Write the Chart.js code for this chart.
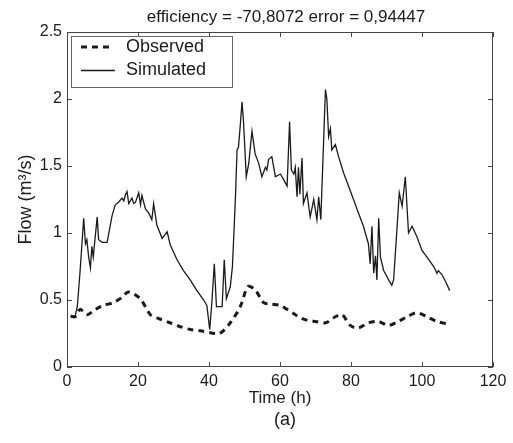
<!DOCTYPE html>
<html>
<head>
<meta charset="utf-8">
<script src="https://cdn.jsdelivr.net/npm/chart.js@4"></script>
<style>
  html, body { margin: 0; padding: 0; background: #fff; }
  canvas { display: block; }
</style>
</head>
<body>
<canvas id="chart" width="513" height="443"></canvas>
<script>
// values
const xTicks = [0, 20, 40, 60, 80, 100, 120]
const yTicks = [0, 0.5, 1, 1.5, 2, 2.5]

const obsTime = [1, 2.3, 3.7, 5.6, 8, 10.3, 13, 15.5, 17.3, 20.6, 23.5, 26, 29, 32, 34.7, 37.5, 40.4, 43, 46, 48.8,
  51, 53, 55.4, 57.5, 60, 62, 63.8, 65.5, 67.6, 70, 72.8, 75.6, 77.5, 79.8, 82, 84.9, 87.7, 90.5, 93.3, 95.8,
  98.6, 101.4, 104.2, 107.5]
const obsFlow = [0.38, 0.375, 0.43, 0.39, 0.43, 0.46, 0.48, 0.52, 0.56, 0.51, 0.39, 0.36, 0.33, 0.3, 0.28, 0.27, 0.256, 0.25, 0.33, 0.45,
  0.6, 0.575, 0.48, 0.47, 0.46, 0.43, 0.4, 0.37, 0.35, 0.34, 0.33, 0.375, 0.39, 0.31, 0.29, 0.33, 0.34, 0.31, 0.34, 0.375,
  0.405, 0.375, 0.34, 0.32]

const simTime = [2.3, 2.9, 3.7, 4.7, 5.2, 5.6, 6.1, 6.6, 7.0, 7.4, 8.5, 8.9, 9.9, 11.3, 12.7, 13.6, 14.5, 15.5, 16.0, 16.4,
  16.9, 17.4, 18.3, 18.8, 19.3, 20.2, 20.7, 21.1, 22.1, 23.0, 23.9, 24.4, 25.3, 26.8, 28.2, 29.1, 31.0, 32.8, 34.7, 36.6,
  38.5, 39.4, 40.2, 40.8, 41.5, 42.1, 43.0, 43.7, 44.3, 44.9, 46.0, 46.6, 47.1, 47.5, 47.9, 48.3, 48.8, 49.3, 49.7, 50.5,
  51.2, 52.1, 53.0, 54.0, 54.9, 55.9, 56.3, 56.8, 57.7, 58.7, 60.1, 61.0, 62.0, 62.7, 63.2, 63.9, 64.3, 64.8, 65.2, 65.6,
  66.2, 66.6, 67.6, 68.5, 69.5, 70.4, 70.9, 71.5, 72.8, 73.2, 73.7, 74.2, 74.6, 75.6, 76.5, 77.9, 79.3, 80.7, 82.1, 83.5,
  84.9, 85.4, 85.9, 86.4, 86.9, 87.3, 87.8, 88.3, 89.2, 90.6, 91.5, 92.0, 93.0, 93.6, 94.4, 95.3, 96.2, 97.2, 98.6, 100.0,
  101.4, 103.3, 104.2, 104.6, 105.6, 106.6, 107.8]
const simFlow = [0.38, 0.45, 0.72, 1.11, 0.92, 0.95, 0.82, 0.74, 0.9, 0.82, 1.12, 0.95, 0.93, 0.93, 1.13, 1.21, 1.23, 1.26, 1.24, 1.28,
  1.31, 1.22, 1.26, 1.22, 1.23, 1.3, 1.21, 1.28, 1.18, 1.15, 1.1, 1.22, 1.06, 0.96, 1.01, 0.91, 0.8, 0.72, 0.65, 0.57,
  0.5, 0.46, 0.28, 0.48, 0.77, 0.45, 0.45, 0.45, 0.8, 0.51, 0.6, 0.75, 1.05, 1.3, 1.62, 1.64, 1.8, 1.98, 1.84, 1.42,
  1.52, 1.76, 1.59, 1.52, 1.42, 1.49, 1.47, 1.55, 1.57, 1.42, 1.44, 1.4, 1.35, 1.83, 1.47, 1.44, 1.49, 1.27, 1.49, 1.29,
  1.56, 1.22, 1.3, 1.12, 1.25, 1.1, 1.27, 1.1, 2.07, 2.0, 1.72, 1.78, 1.62, 1.66, 1.57, 1.45, 1.35, 1.25, 1.15, 1.05,
  0.92, 0.77, 1.05, 0.7, 0.83, 0.65, 1.11, 0.82, 0.72, 0.65, 0.61, 0.65, 1.05, 1.3, 1.2, 1.42, 1.0, 1.05, 0.97, 0.87,
  0.82, 0.75, 0.7, 0.72, 0.69, 0.64, 0.57]

const titleText = 'efficiency = -70,8072 error = 0,94447'
const FONT = '"Liberation Sans", Arial, Helvetica, sans-serif'
const INK = '#1a1a1a'

const toPoints = (xs, ys) => xs.map((x, i) => ({ x: x, y: ys[i] }))

// matlab-ish frame, inward ticks, legend and captions
const figureDecor = {
  id: 'figureDecor',
  afterDatasetsDraw(chart) {
    const { ctx, chartArea: a, scales } = chart
    ctx.save()
    ctx.strokeStyle = '#444'
    ctx.lineWidth = 1
    ctx.strokeRect(a.left + 0.5, a.top + 0.5, a.right - a.left - 1, a.bottom - a.top - 1)
    ctx.beginPath()
    xTicks.forEach(v => {
      const px = Math.round(scales.x.getPixelForValue(v)) + 0.5
      ctx.moveTo(px, a.bottom); ctx.lineTo(px, a.bottom - 5)
      ctx.moveTo(px, a.top); ctx.lineTo(px, a.top + 5)
    })
    yTicks.forEach(v => {
      const py = Math.round(scales.y.getPixelForValue(v)) + 0.5
      ctx.moveTo(a.left, py); ctx.lineTo(a.left + 5, py)
      ctx.moveTo(a.right, py); ctx.lineTo(a.right - 5, py)
    })
    ctx.stroke()

    // legend box
    const lx = a.left + 4, ly = a.top + 4, lw = 161, lh = 51
    ctx.fillStyle = '#fff'
    ctx.fillRect(lx, ly, lw, lh)
    ctx.strokeStyle = '#666'
    ctx.strokeRect(lx + 0.5, ly + 0.5, lw, lh)
    ctx.font = '18px ' + FONT
    ctx.textBaseline = 'middle'
    ctx.fillStyle = INK
    chart.data.datasets.forEach((ds, i) => {
      const yy = ly + 11 + i * 23.5
      ctx.beginPath()
      ctx.strokeStyle = INK
      ctx.lineWidth = ds.borderWidth
      ctx.setLineDash(ds.borderDash || [])
      ctx.moveTo(lx + 10, yy)
      ctx.lineTo(lx + (i === 0 ? 40 : 44), yy)
      ctx.stroke()
      ctx.setLineDash([])
      ctx.fillText(ds.label, lx + 55, yy)
    })

    // title and panel caption
    ctx.textAlign = 'center'
    ctx.font = '17px ' + FONT
    ctx.fillText(titleText, 286, 17)
    ctx.font = '18px ' + FONT
    ctx.fillText('(a)', 285, 420)
    ctx.restore()
  }
}

new Chart(document.getElementById('chart'), {
  type: 'scatter',
  data: {
    datasets: [
      {
        label: 'Observed',
        data: toPoints(obsTime, obsFlow),
        showLine: true,
        borderColor: INK,
        borderWidth: 3,
        borderDash: [6, 5],
        pointRadius: 0,
        tension: 0.3
      },
      {
        label: 'Simulated',
        data: toPoints(simTime, simFlow),
        showLine: true,
        borderColor: INK,
        borderWidth: 1.3,
        pointRadius: 0,
        tension: 0
      }
    ]
  },
  options: {
    responsive: false,
    animation: false,
    devicePixelRatio: 1,
    layout: { padding: { left: 0, top: 32, right: 20, bottom: 0 } },
    plugins: {
      legend: { display: false },
      tooltip: { enabled: false }
    },
    scales: {
      x: {
        type: 'linear',
        min: 0,
        max: 120,
        afterBuildTicks: s => { s.ticks = xTicks.map(v => ({ value: v })) },
        afterFit: s => { s.height = 76 },
        grid: { display: false, tickLength: 0 },
        border: { display: false },
        ticks: { color: INK, padding: 5, font: { family: FONT, size: 16 }, callback: v => String(v) },
        title: {
          display: true,
          text: 'Time (h)',
          color: INK,
          font: { family: FONT, size: 17 },
          padding: { bottom: 34 }
        }
      },
      y: {
        min: 0,
        max: 2.5,
        afterBuildTicks: s => { s.ticks = yTicks.map(v => ({ value: v })) },
        afterFit: s => { s.width = 67 },
        grid: { display: false, tickLength: 0 },
        border: { display: false },
        ticks: { color: INK, padding: 5, font: { family: FONT, size: 16 }, callback: v => String(v) },
        title: {
          display: true,
          text: 'Flow (m³/s)',
          color: INK,
          font: { family: FONT, size: 18 },
          padding: { top: 15 }
        }
      }
    }
  },
  plugins: [figureDecor]
})
</script>
</body>
</html>
